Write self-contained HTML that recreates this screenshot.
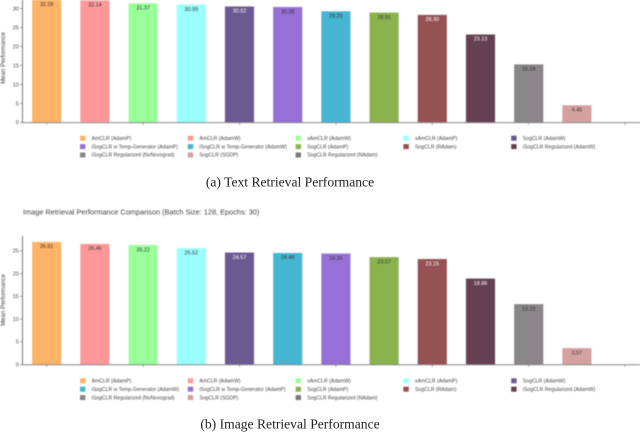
<!DOCTYPE html>
<html lang="en">
<head>
<meta charset="utf-8">
<title>Retrieval Performance Comparison</title>
<style>
html,body{margin:0;padding:0;background:#fff;}
body{width:640px;height:432px;overflow:hidden;}
svg{display:block;}
text{font-family:"Liberation Sans",sans-serif;}
.soft{filter:blur(0.4px);}
.caption{font-family:"Liberation Serif",serif;font-size:13.6px;fill:#222;}
</style>
</head>
<body>
<svg id="figure" width="640" height="432" viewBox="0 0 640 432" xmlns="http://www.w3.org/2000/svg">
  <rect x="0" y="0" width="640" height="432" fill="#ffffff"/>
  <g id="chart-text" class="soft"></g>
  <text class="caption" x="290" y="186.5" text-anchor="middle">(a) Text Retrieval Performance</text>
  <text class="soft" x="23" y="214.5" font-size="7.35" fill="#444">Image Retrieval Performance Comparison (Batch Size: 128, Epochs: 30)</text>
  <g id="chart-image" class="soft"></g>
  <text class="caption" x="290" y="428.5" text-anchor="middle">(b) Image Retrieval Performance</text>
</svg>
<script>
const textCategories = ["AmCLR (AdamP)", "AmCLR (AdamW)", "xAmCLR (AdamW)", "xAmCLR (AdamP)", "SogCLR (AdamW)", "iSogCLR w Temp-Generator (AdamP)", "iSogCLR w Temp-Generator (AdamW)", "SogCLR (AdamP)", "SogCLR (RAdam)", "iSogCLR Regularized (AdamW)", "iSogCLR Regularized (NvNovograd)", "SogCLR (SGDP)", "SogCLR Regularized (NAdam)"];
const textValues = [32.28, 32.14, 31.37, 30.99, 30.52, 30.38, 29.25, 28.91, 28.30, 23.13, 15.24, 4.45, null];
const textTicks = [0, 5, 10, 15, 20, 25, 30];

const imageCategories = ["AmCLR (AdamP)", "AmCLR (AdamW)", "xAmCLR (AdamW)", "xAmCLR (AdamP)", "SogCLR (AdamW)", "iSogCLR w Temp-Generator (AdamW)", "iSogCLR w Temp-Generator (AdamP)", "SogCLR (AdamP)", "SogCLR (RAdam)", "iSogCLR Regularized (AdamW)", "iSogCLR Regularized (NvNovograd)", "SogCLR (SGDP)", "SogCLR Regularized (NAdam)"];
const imageValues = [26.91, 26.46, 26.22, 25.52, 24.57, 24.48, 24.35, 23.57, 23.15, 18.86, 13.23, 3.57, null];
const imageTicks = [0, 5, 10, 15, 20, 25];

const categoryColors = {
  "AmCLR (AdamP)": "#ffb366",
  "AmCLR (AdamW)": "#ff9999",
  "xAmCLR (AdamW)": "#99ff99",
  "xAmCLR (AdamP)": "#99ffff",
  "SogCLR (AdamW)": "#6a5a92",
  "iSogCLR w Temp-Generator (AdamP)": "#9670d6",
  "iSogCLR w Temp-Generator (AdamW)": "#45b5d1",
  "SogCLR (AdamP)": "#8ab34d",
  "SogCLR (RAdam)": "#965252",
  "iSogCLR Regularized (AdamW)": "#644052",
  "iSogCLR Regularized (NvNovograd)": "#8a8588",
  "SogCLR (SGDP)": "#d4a0a0",
  "SogCLR Regularized (NAdam)": "#7a7a7a"
};
const darkBars = ["SogCLR (AdamW)", "SogCLR (RAdam)", "iSogCLR Regularized (AdamW)"];

const NS = "http://www.w3.org/2000/svg";
function make(tag, parent, attrs, content) {
  const el = document.createElementNS(NS, tag);
  for (const k in attrs) el.setAttribute(k, attrs[k]);
  if (content !== undefined) el.textContent = content;
  parent.appendChild(el);
  return el;
}

function drawChart(root, categories, values, ticks, frame) {
  const y = v => frame.zero - v * frame.unit;
  const x = i => 32.3 + i * 48.2;
  const barWidth = 28.8;

  categories.forEach((name, i) => {
    const v = values[i];
    if (v === null) return;
    const bar = make("rect", root, {
      x: x(i), y: y(v), width: barWidth, height: frame.zero - y(v),
      fill: categoryColors[name], stroke: categoryColors[name],
      "stroke-width": 0.6, "stroke-opacity": 0.5
    });
    
    
    const label = make("text", root, {
      x: x(i) + barWidth / 2, y: y(v) + 6.1, "text-anchor": "middle", "font-size": 5.4,
      fill: darkBars.includes(name) ? "#ffffff" : "#333333"
    }, v.toFixed(2));
    
    
  });

  const yAxis = make("line", root, {x1: 22.5, x2: 22.5, y1: frame.top, y2: frame.zero + 0.5, stroke: "#777", "stroke-width": 1});
  
  
  const xAxis = make("line", root, {x1: 22, x2: 640, y1: frame.zero + 0.3, y2: frame.zero + 0.3, stroke: "#888", "stroke-width": 1});
  
  

  ticks.forEach(t => {
    const mark = make("line", root, {x1: 20, x2: 22.5, y1: y(t), y2: y(t), stroke: "#777", "stroke-width": 0.7});
    
    
    const tickLabel = make("text", root, {x: 18.8, y: y(t) + 1.9, "text-anchor": "end", "font-size": 5.4, fill: "#444"}, String(t));
    
    
  });

  categories.forEach((name, i) => {
    if (i % 2) return;
    const cx = x(i) + barWidth / 2;
    const mark = make("line", root, {x1: cx, x2: cx, y1: frame.zero, y2: frame.zero + 2.4, stroke: "#777", "stroke-width": 0.7});
    
    
  });

  const yTitle = make("text", root, {
    x: 0, y: 0, "text-anchor": "middle", "font-size": 6.1, fill: "#444",
    transform: "translate(5," + frame.titleY + ") rotate(-90)"
  }, "Mean Performance");
  
  

  categories.forEach((name, i) => {
    const col = i % 5, row = Math.floor(i / 5);
    const lx = 80 + col * 107.8, ly = frame.legendY + row * 8.4;
    const swatch = make("rect", root, {x: lx, y: ly, width: 5.4, height: 5, fill: categoryColors[name]});
    
    
    const entry = make("text", root, {x: lx + 11.6, y: ly + 4.2, "font-size": 5.15, fill: "#444"}, name);
    
    
  });
}

drawChart(document.getElementById("chart-text"), textCategories, textValues, textTicks,
  {zero: 122.3, unit: 3.79, top: 0, titleY: 58, legendY: 135.7});
drawChart(document.getElementById("chart-image"), imageCategories, imageValues, imageTicks,
  {zero: 364.5, unit: 4.55, top: 236, titleY: 300, legendY: 378.3});
</script>
</body>
</html>
